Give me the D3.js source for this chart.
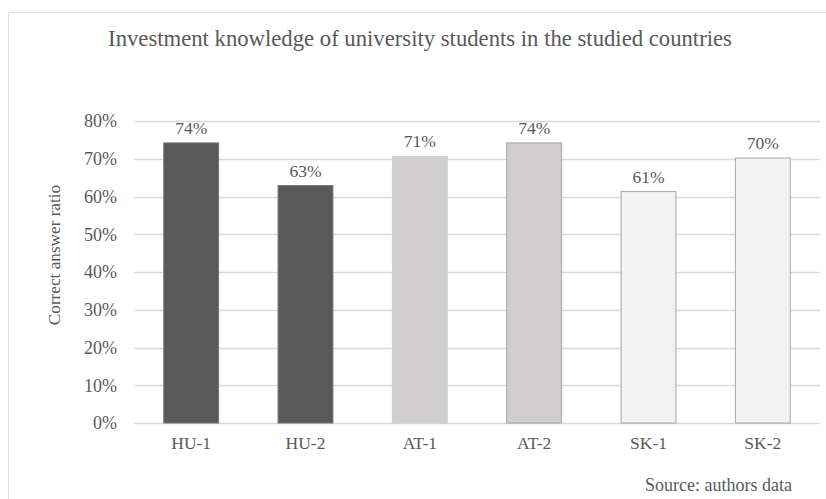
<!DOCTYPE html>
<html>
<head>
<meta charset="utf-8">
<script src="https://cdn.jsdelivr.net/npm/d3@7"></script>
<style>
  body { margin: 0; background: #fff; }
  text { font-family: "Liberation Serif", "Times New Roman", serif; fill: #595959; }
</style>
</head>
<body>
<div id="chart"></div>
<script>
// data
var categories = ["HU-1", "HU-2", "AT-1", "AT-2", "SK-1", "SK-2"];
var values = [0.742, 0.629, 0.706, 0.742, 0.613, 0.702];
var yTicks = [0, 0.1, 0.2, 0.3, 0.4, 0.5, 0.6, 0.7, 0.8];

// styles
var fills = ["#595959", "#595959", "#d0cece", "#d0cece", "#f2f2f2", "#f2f2f2"];
var strokes = ["#767676", "#767676", "#cfcfcf", "#a3a3a3", "#a6a6a6", "#a6a6a6"];

var width = 826, height = 499;
var margin = { top: 121, right: 6, bottom: 76, left: 134 };
var innerW = width - margin.left - margin.right,
    innerH = height - margin.top - margin.bottom;

var svg = d3.select("#chart").append("svg")
    .attr("width", width)
    .attr("height", height);

// frame
svg.append("rect")
    .attr("x", 8.5).attr("y", 12.5)
    .attr("width", 830).attr("height", 500)
    .attr("fill", "none")
    .attr("stroke", "#dedede");

svg.append("text")
    .attr("x", 420).attr("y", 46)
    .attr("text-anchor", "middle")
    .style("font-size", "22.7px")
    .text("Investment knowledge of university students in the studied countries");

var g = svg.append("g")
    .attr("transform", "translate(" + margin.left + "," + margin.top + ")");

var x = d3.scaleBand().domain(categories).range([0, innerW]).paddingInner(0.52).paddingOuter(0.26);
var y = d3.scaleLinear().domain([0, 0.8]).range([innerH, 0]);

// gridlines
g.selectAll(".grid").data(yTicks).enter().append("line")
    .attr("class", "grid")
    .attr("x1", 0).attr("x2", innerW)
    .attr("y1", function(d){ return Math.round(y(d)) + 0.5; })
    .attr("y2", function(d){ return Math.round(y(d)) + 0.5; })
    .attr("stroke", "#d9d9d9")
    .attr("stroke-width", 1.3);

var yAxis = g.append("g")
    .call(d3.axisLeft(y).tickValues(yTicks).tickFormat(d3.format(".0%")).tickSize(0).tickPadding(17));
yAxis.select(".domain").remove();
yAxis.selectAll("text").style("font-size", "18px").attr("fill", "#595959").style("font-family", "Liberation Serif");

g.selectAll(".bar").data(values).enter().append("rect")
    .attr("class", "bar")
    .attr("x", function(d, i){ return x(categories[i]); })
    .attr("y", function(d){ return y(d); })
    .attr("width", x.bandwidth())
    .attr("height", function(d){ return innerH - y(d); })
    .attr("fill", function(d, i){ return fills[i]; })
    .attr("stroke", function(d, i){ return strokes[i]; })
    .attr("stroke-width", 1);

g.selectAll(".val").data(values).enter().append("text")
    .attr("class", "val")
    .attr("x", function(d, i){ return x(categories[i]) + x.bandwidth() / 2; })
    .attr("y", function(d){ return y(d) - 9; })
    .attr("text-anchor", "middle")
    .style("font-size", "17.5px")
    .text(function(d){ return d3.format(".0%")(d); });

var xAxis = g.append("g")
    .attr("transform", "translate(0," + innerH + ")")
    .call(d3.axisBottom(x).tickSize(0).tickPadding(14));
xAxis.select(".domain").remove();
xAxis.selectAll("text").style("font-size", "17.5px").attr("fill", "#595959").style("font-family", "Liberation Serif");

svg.append("text")
    .attr("transform", "translate(60,255) rotate(-90)")
    .attr("text-anchor", "middle")
    .style("font-size", "17.2px")
    .text("Correct answer ratio");

svg.append("text")
    .attr("x", 792).attr("y", 491)
    .attr("text-anchor", "end")
    .style("font-size", "18px")
    .text("Source: authors data");
</script>
</body>
</html>
